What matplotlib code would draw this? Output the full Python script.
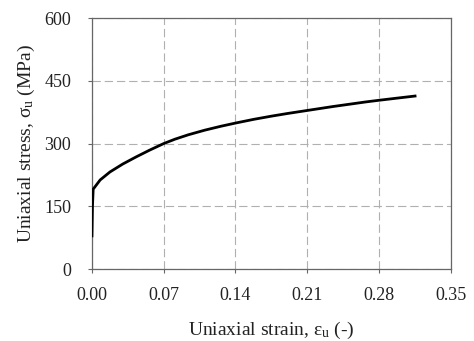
import matplotlib
matplotlib.use("Agg")
import matplotlib.pyplot as plt

strain = [0.0, 0.0005, 0.0012, 0.008, 0.0175, 0.03, 0.043, 0.056, 0.07, 0.081,
          0.094, 0.11, 0.126, 0.14, 0.158, 0.175, 0.191, 0.207, 0.235, 0.267,
          0.28, 0.299, 0.3165]
stress = [76, 150, 191, 213, 232, 251, 268, 284, 300, 310.5,
          321, 332, 341.5, 349, 358, 365.5, 372, 378, 388.5, 399.5,
          403.5, 409, 414]

xticks = [0.00, 0.07, 0.14, 0.21, 0.28, 0.35]
yticks = [0, 150, 300, 450, 600]
xlabels = ["0.00", "0.07", "0.14", "0.21", "0.28", "0.35"]
ylabels = ["0", "150", "300", "450", "600"]

plt.rcParams['font.family'] = ['Liberation Serif', 'DejaVu Serif']
plt.rcParams['mathtext.fontset'] = 'custom'
plt.rcParams['mathtext.rm'] = 'Liberation Serif'
plt.rcParams['mathtext.it'] = 'Liberation Serif:italic'

fig = plt.figure(figsize=(4.74, 3.41), dpi=100)
fig.patch.set_facecolor('white')
ax = fig.add_axes([0.194, 0.211, 0.757, 0.736])

ax.plot(strain, stress, color='black', lw=2.0, solid_capstyle='butt',
        solid_joinstyle='round', zorder=3)

ax.set_xlim(0, 0.35)
ax.set_ylim(0, 600)
ax.set_xticks(xticks)
ax.set_xticklabels(xlabels)
ax.set_yticks(yticks)
ax.set_yticklabels(ylabels)

ax.grid(True, color='#b0b0b0', linestyle=(0, (7.5, 3.5)), linewidth=0.8)
ax.set_axisbelow(True)
for s in ax.spines.values():
    s.set_color('#666666')
    s.set_linewidth(0.9)

ax.tick_params(axis='both', direction='out', length=3, width=0.8, color='#666666',
               labelsize=13, labelcolor='#222222')
ax.tick_params(axis='x', pad=10)
ax.tick_params(axis='y', pad=12)

ax.set_xlabel("Uniaxial strain, ε$_\\mathrm{u}$ (-)", fontsize=14, color='#222222', labelpad=11)
ax.set_ylabel("Uniaxial stress, σ$_\\mathrm{u}$ (MPa)", fontsize=14, color='#222222', labelpad=5)

fig.savefig("out.png", dpi=100, facecolor='white')
